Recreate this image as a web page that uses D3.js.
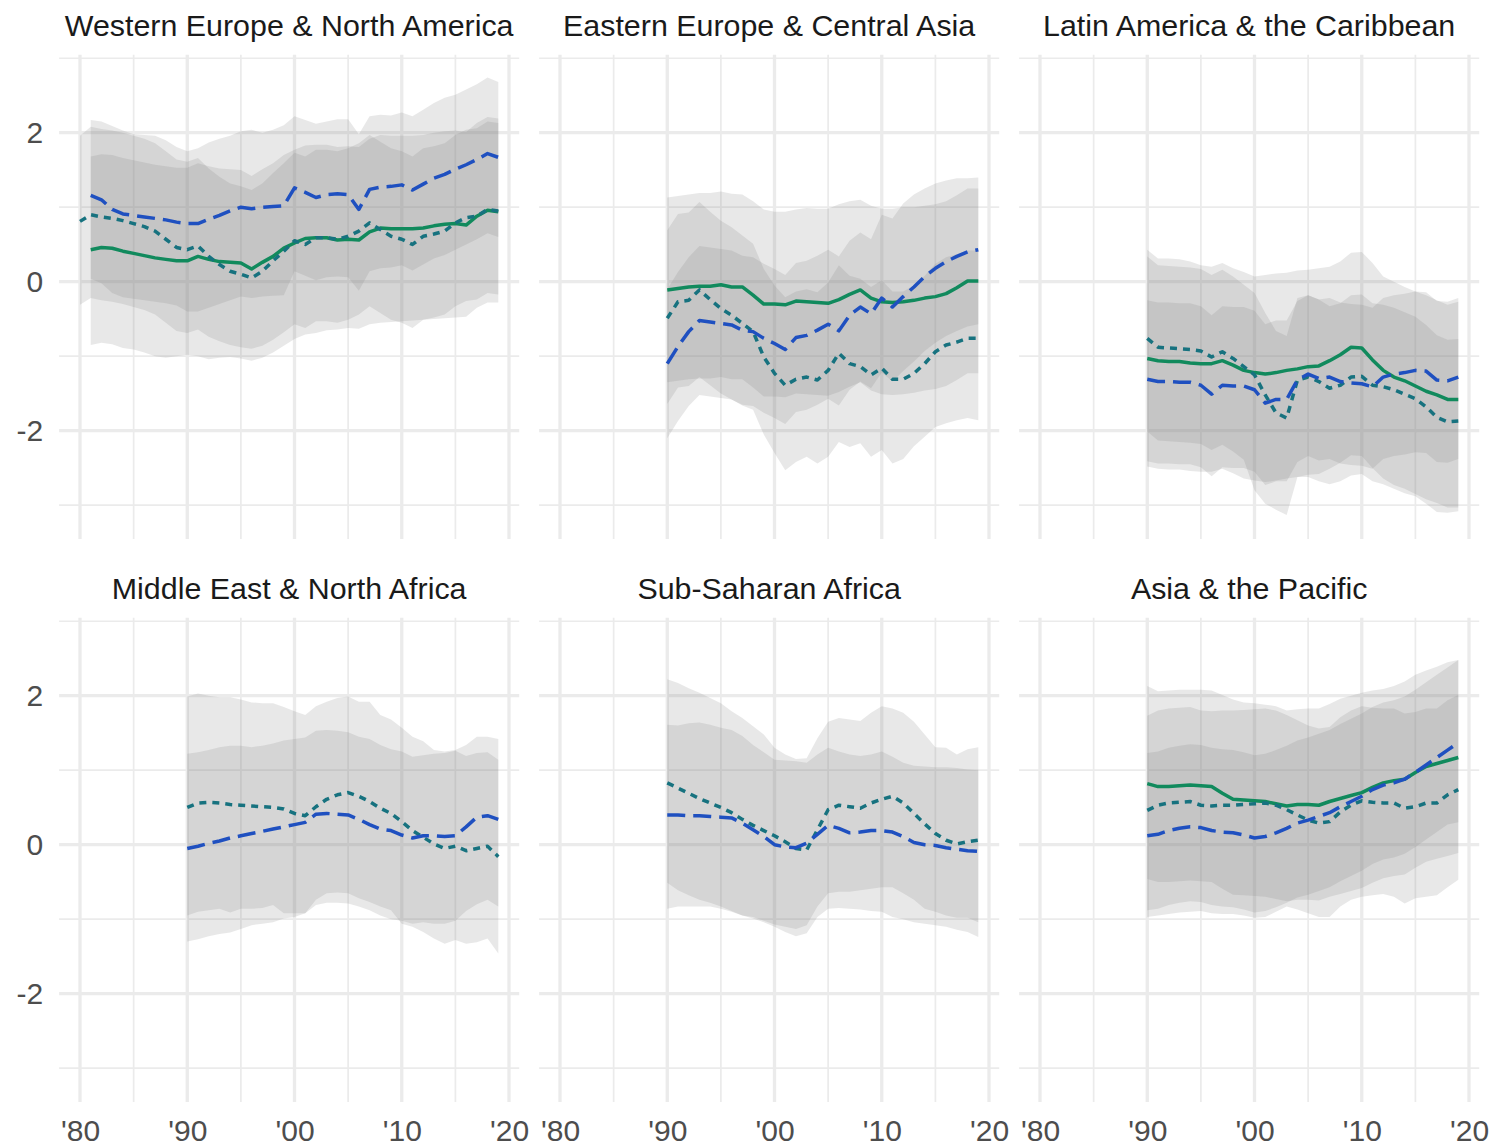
<!DOCTYPE html>
<html><head><meta charset="utf-8">
<script src="https://cdn.jsdelivr.net/npm/d3@7"></script>
<style>body{margin:0;background:#fff;} svg{display:block;font-family:"Liberation Sans",Arial,Helvetica,sans-serif;}</style>
</head><body>
<svg id="chart" width="1493" height="1148"></svg>
<script>
// ---------------- DATA ----------------
const regions = ["Western Europe & North America","Eastern Europe & Central Asia","Latin America & the Caribbean",
                 "Middle East & North Africa","Sub-Saharan Africa","Asia & the Pacific"];
const xTickValues = [1980,1990,2000,2010,2020];
const xTickLabels = ["'80","'90","'00","'10","'20"];
const yTickValues = [-2,0,2];
const yTickLabels = ["-2","0","2"];
const xMinorValues = [1985,1995,2005,2015];
const yMinorValues = [-3,-1,1,3];

// Western Europe & North America
const wenaTealStart = 1980;
const wenaTeal   = [0.81,0.90,0.87,0.85,0.82,0.78,0.74,0.68,0.57,0.46, 0.43,0.48,0.34,0.23,0.14,0.10,0.05,0.14,0.28,0.41, 0.55,0.50,0.59,0.59,0.57,0.61,0.68,0.79,0.70,0.61, 0.57,0.50,0.61,0.64,0.68,0.79,0.86,0.88,0.97,0.95];
const wenaTealHi = [1.96,2.08,2.05,2.03,2.00,1.96,1.92,1.86,1.75,1.64, 1.61,1.66,1.52,1.41,1.32,1.28,1.23,1.32,1.46,1.59, 1.73,1.68,1.77,1.77,1.75,1.79,1.86,1.97,1.88,1.79, 1.75,1.68,1.79,1.82,1.86,1.97,2.04,2.06,2.15,2.13];
const wenaTealLo = [-0.31,-0.22,-0.25,-0.27,-0.30,-0.34,-0.38,-0.44,-0.55,-0.66, -0.69,-0.64,-0.74,-0.80,-0.85,-0.88,-0.90,-0.86,-0.78,-0.68, -0.57,-0.62,-0.53,-0.53,-0.55,-0.51,-0.44,-0.33,-0.42,-0.51, -0.55,-0.62,-0.51,-0.48,-0.44,-0.33,-0.26,-0.24,-0.15,-0.17];
const wenaGreenStart = 1981;
const wenaGreen   = [0.43,0.46,0.45,0.41,0.38,0.35,0.32,0.30,0.28, 0.28,0.34,0.30,0.27,0.26,0.25,0.17,0.26,0.34,0.45, 0.52,0.58,0.59,0.59,0.56,0.57,0.56,0.67,0.72,0.71, 0.71,0.71,0.72,0.75,0.77,0.78,0.76,0.88,0.96,0.94];
const wenaGreenHi = [1.68,1.71,1.70,1.66,1.63,1.60,1.57,1.55,1.53, 1.53,1.59,1.55,1.52,1.51,1.50,1.42,1.51,1.59,1.70, 1.77,1.83,1.84,1.84,1.81,1.82,1.81,1.92,1.97,1.96, 1.96,1.96,1.97,2.00,2.02,2.03,2.01,2.13,2.21,2.19];
const wenaGreenLo = [-0.85,-0.82,-0.84,-0.89,-0.91,-0.95,-1.00,-1.02,-1.00, -0.98,-1.00,-1.04,-1.02,-1.01,-1.03,-1.06,-1.02,-0.95,-0.86, -0.77,-0.71,-0.69,-0.65,-0.64,-0.62,-0.63,-0.57,-0.55,-0.54, -0.53,-0.52,-0.51,-0.50,-0.49,-0.48,-0.47,-0.35,-0.28,-0.28];
const wenaBlueStart = 1981;
const wenaBlue   = [1.16,1.10,0.97,0.91,0.89,0.87,0.85,0.83,0.80, 0.78,0.78,0.84,0.89,0.95,1.00,0.98,1.00,1.01,1.02, 1.26,1.20,1.13,1.17,1.18,1.17,0.97,1.24,1.27,1.28, 1.30,1.23,1.31,1.39,1.44,1.51,1.57,1.64,1.72,1.67];
const wenaBlueHi = [2.17,2.15,2.09,2.03,1.98,1.97,1.96,1.90,1.81, 1.75,1.79,1.87,1.92,1.96,2.02,2.04,2.00,2.04,2.10, 2.22,2.17,2.12,2.15,2.18,2.18,1.98,2.22,2.24,2.23, 2.27,2.22,2.31,2.40,2.47,2.51,2.58,2.65,2.74,2.68];
const wenaBlueLo = [0.04,-0.02,-0.15,-0.21,-0.23,-0.25,-0.27,-0.29,-0.32, -0.40,-0.40,-0.35,-0.30,-0.25,-0.20,-0.22,-0.20,-0.19,-0.18, 0.14,0.08,0.02,0.06,0.07,0.06,-0.12,0.14,0.18,0.19, 0.22,0.15,0.23,0.31,0.36,0.43,0.50,0.57,0.65,0.60];

// Eastern Europe & Central Asia (from 1990)
const eecaGreen   = [-0.11,-0.09,-0.07,-0.06,-0.06,-0.04,-0.07,-0.07,-0.18,-0.30, -0.30,-0.31,-0.26,-0.27,-0.28,-0.29,-0.24,-0.17,-0.11,-0.22, -0.27,-0.28,-0.27,-0.25,-0.22,-0.20,-0.16,-0.08,0.01,0.01];
const eecaGreenHi = [1.13,1.15,1.17,1.19,1.19,1.21,1.18,1.17,1.08,0.97, 0.94,0.94,0.97,0.99,0.98,0.98,1.04,1.08,1.10,1.02, 0.98,0.98,1.00,1.00,1.02,1.04,1.08,1.16,1.25,1.25];
const eecaGreenLo = [-1.35,-1.33,-1.31,-1.30,-1.30,-1.28,-1.31,-1.31,-1.42,-1.54, -1.54,-1.55,-1.50,-1.51,-1.52,-1.53,-1.48,-1.41,-1.35,-1.46, -1.51,-1.52,-1.51,-1.49,-1.46,-1.44,-1.40,-1.32,-1.23,-1.23];
const eecaBlue   = [-1.10,-0.87,-0.67,-0.52,-0.54,-0.56,-0.58,-0.65,-0.67,-0.76, -0.83,-0.91,-0.75,-0.72,-0.65,-0.57,-0.66,-0.45,-0.34,-0.43, -0.22,-0.34,-0.20,-0.07,0.07,0.18,0.27,0.34,0.40,0.43];
const eecaBlueHi = [-0.10,0.13,0.33,0.48,0.46,0.44,0.42,0.35,0.33,0.24, 0.17,0.09,0.25,0.28,0.35,0.43,0.34,0.55,0.66,0.57, 0.90,0.85,1.05,1.17,1.25,1.32,1.36,1.39,1.39,1.40];
const eecaBlueLo = [-2.10,-1.87,-1.67,-1.52,-1.54,-1.56,-1.58,-1.65,-1.67,-1.76, -1.83,-1.91,-1.75,-1.72,-1.65,-1.57,-1.66,-1.45,-1.34,-1.43, -1.22,-1.34,-1.20,-1.07,-0.93,-0.82,-0.73,-0.66,-0.60,-0.57];
const eecaTeal   = [-0.49,-0.27,-0.25,-0.11,-0.24,-0.36,-0.45,-0.56,-0.67,-1.01, -1.23,-1.39,-1.31,-1.28,-1.32,-1.19,-0.96,-1.10,-1.14,-1.25, -1.16,-1.31,-1.31,-1.23,-1.10,-0.94,-0.85,-0.81,-0.76,-0.76];
const eecaTealHi = [0.69,0.91,0.93,1.07,0.94,0.82,0.73,0.62,0.51,0.17, -0.05,-0.21,-0.13,-0.10,-0.14,-0.01,0.22,0.08,0.04,-0.07, 0.02,-0.13,-0.13,-0.05,0.08,0.24,0.33,0.37,0.42,0.42];
const eecaTealLo = [-1.64,-1.42,-1.40,-1.28,-1.39,-1.50,-1.58,-1.66,-1.72,-2.05, -2.30,-2.53,-2.42,-2.35,-2.44,-2.35,-2.15,-2.22,-2.17,-2.35, -2.26,-2.44,-2.38,-2.21,-2.08,-1.95,-1.90,-1.86,-1.83,-1.86];

// Latin America & the Caribbean (from 1990)
const lacGreen   = [-1.03,-1.06,-1.07,-1.07,-1.09,-1.10,-1.10,-1.06,-1.12,-1.19, -1.22,-1.24,-1.22,-1.19,-1.17,-1.14,-1.13,-1.06,-0.98,-0.88, -0.89,-1.05,-1.19,-1.28,-1.33,-1.40,-1.47,-1.52,-1.58,-1.58];
const lacGreenHi = [0.43,0.31,0.31,0.30,0.27,0.22,0.20,0.25,0.18,0.13, 0.07,0.09,0.11,0.12,0.15,0.16,0.18,0.20,0.27,0.39, 0.40,0.25,0.07,0.00,-0.07,-0.13,-0.18,-0.25,-0.31,-0.27];
const lacGreenLo = [-2.48,-2.51,-2.52,-2.52,-2.54,-2.55,-2.55,-2.51,-2.57,-2.64, -2.67,-2.69,-2.67,-2.64,-2.62,-2.59,-2.58,-2.51,-2.43,-2.33, -2.34,-2.50,-2.64,-2.73,-2.78,-2.85,-2.92,-2.97,-3.03,-3.03];
const lacBlue   = [-1.31,-1.34,-1.34,-1.35,-1.35,-1.39,-1.51,-1.39,-1.40,-1.40, -1.45,-1.63,-1.58,-1.58,-1.32,-1.24,-1.30,-1.28,-1.34,-1.36, -1.37,-1.41,-1.28,-1.24,-1.22,-1.19,-1.20,-1.32,-1.33,-1.28];
const lacBlueHi = [-0.25,-0.28,-0.28,-0.29,-0.29,-0.33,-0.45,-0.33,-0.34,-0.34, -0.39,-0.57,-0.52,-0.52,-0.26,-0.18,-0.24,-0.22,-0.28,-0.30, -0.31,-0.35,-0.22,-0.18,-0.16,-0.13,-0.14,-0.26,-0.27,-0.22];
const lacBlueLo = [-2.41,-2.44,-2.44,-2.45,-2.45,-2.49,-2.61,-2.49,-2.50,-2.50, -2.55,-2.73,-2.68,-2.68,-2.42,-2.34,-2.40,-2.38,-2.44,-2.46, -2.47,-2.51,-2.38,-2.34,-2.32,-2.29,-2.30,-2.42,-2.43,-2.38];
const lacTeal   = [-0.76,-0.88,-0.89,-0.90,-0.91,-0.93,-1.01,-0.94,-1.03,-1.14, -1.25,-1.52,-1.76,-1.83,-1.32,-1.28,-1.34,-1.43,-1.39,-1.28, -1.27,-1.39,-1.41,-1.45,-1.51,-1.57,-1.68,-1.82,-1.88,-1.87];
const lacTealHi = [0.34,0.22,0.21,0.20,0.19,0.17,0.09,0.16,0.07,-0.04, -0.15,-0.42,-0.66,-0.73,-0.22,-0.18,-0.24,-0.33,-0.29,-0.18, -0.17,-0.29,-0.31,-0.35,-0.41,-0.47,-0.58,-0.72,-0.78,-0.77];
const lacTealLo = [-2.01,-2.13,-2.14,-2.15,-2.16,-2.18,-2.26,-2.19,-2.28,-2.39, -2.80,-2.98,-3.06,-3.13,-2.62,-2.62,-2.68,-2.72,-2.68,-2.60, -2.58,-2.68,-2.72,-2.78,-2.84,-2.88,-2.98,-3.09,-3.10,-3.08];

// Middle East & North Africa (from 1990)
const menaBlue   = [-0.05,-0.02,0.02,0.05,0.09,0.12,0.15,0.18,0.21,0.24, 0.27,0.30,0.41,0.42,0.41,0.40,0.34,0.27,0.21,0.19, 0.13,0.09,0.12,0.12,0.11,0.12,0.24,0.37,0.39,0.34];
const menaBlueHi = [1.22,1.24,1.27,1.31,1.33,1.33,1.31,1.33,1.36,1.40, 1.42,1.44,1.53,1.54,1.53,1.51,1.45,1.42,1.34,1.28, 1.25,1.18,1.20,1.22,1.23,1.26,1.19,1.23,1.24,1.14];
const menaBlueLo = [-1.30,-1.27,-1.23,-1.20,-1.18,-1.13,-1.08,-1.06,-1.04,-0.99, -0.97,-0.92,-0.81,-0.78,-0.78,-0.79,-0.83,-0.88,-0.95,-1.00, -1.02,-1.06,-1.04,-1.06,-1.06,-1.02,-0.89,-0.80,-0.74,-0.83];
const menaTeal   = [0.50,0.56,0.57,0.56,0.54,0.53,0.52,0.51,0.50,0.48, 0.42,0.39,0.51,0.61,0.67,0.70,0.65,0.58,0.49,0.42, 0.31,0.19,0.10,0.01,-0.05,-0.02,-0.08,-0.05,-0.02,-0.16];
const menaTealHi = [1.99,2.03,2.00,1.98,1.98,1.95,1.91,1.90,1.90,1.85, 1.79,1.74,1.86,1.92,1.97,1.99,1.92,1.92,1.74,1.68, 1.57,1.45,1.39,1.27,1.25,1.27,1.34,1.45,1.45,1.42];
const menaTealLo = [-0.95,-0.90,-0.88,-0.86,-0.91,-0.86,-0.86,-0.85,-0.81,-0.92, -0.92,-0.92,-0.74,-0.65,-0.64,-0.65,-0.72,-0.77,-0.83,-0.88, -1.06,-1.10,-1.17,-1.26,-1.33,-1.28,-1.33,-1.31,-1.26,-1.46];

// Sub-Saharan Africa (from 1990)
const ssaBlue   = [0.40,0.40,0.39,0.39,0.38,0.37,0.36,0.29,0.20,0.11, 0.00,-0.03,-0.04,0.02,0.14,0.26,0.22,0.16,0.17,0.19, 0.19,0.17,0.11,0.03,0.00,-0.01,-0.04,-0.06,-0.08,-0.09];
const ssaBlueHi = [1.61,1.60,1.63,1.64,1.61,1.57,1.54,1.46,1.34,1.24, 1.14,1.13,1.12,1.10,1.21,1.30,1.25,1.21,1.19,1.21, 1.25,1.18,1.10,1.06,1.05,1.04,1.04,1.03,1.01,1.00];
const ssaBlueLo = [-0.86,-0.83,-0.83,-0.83,-0.83,-0.86,-0.90,-0.95,-0.99,-1.04, -1.10,-1.17,-1.23,-1.19,-0.97,-0.86,-0.85,-0.86,-0.87,-0.89, -0.90,-0.97,-1.00,-1.04,-1.06,-1.08,-1.10,-1.14,-1.17,-1.24];
const ssaTeal   = [0.83,0.76,0.69,0.62,0.56,0.50,0.43,0.34,0.26,0.19, 0.12,0.04,-0.05,-0.07,0.20,0.47,0.53,0.51,0.49,0.56, 0.61,0.65,0.56,0.42,0.28,0.15,0.06,0.01,0.04,0.06];
const ssaTealHi = [2.22,2.17,2.10,2.04,1.97,1.90,1.79,1.70,1.59,1.48, 1.30,1.21,1.15,1.16,1.43,1.65,1.70,1.68,1.66,1.77, 1.86,1.83,1.77,1.65,1.48,1.31,1.30,1.21,1.28,1.31];
const ssaTealLo = [-0.51,-0.61,-0.68,-0.74,-0.78,-0.83,-0.89,-0.95,-0.97,-1.02, -1.07,-1.10,-1.13,-1.08,-0.83,-0.65,-0.63,-0.63,-0.61,-0.59, -0.57,-0.57,-0.65,-0.74,-0.86,-0.90,-0.95,-0.98,-0.98,-1.04];

// Asia & the Pacific (from 1990)
const apGreen   = [0.82,0.78,0.78,0.79,0.80,0.79,0.78,0.69,0.61,0.60, 0.59,0.58,0.55,0.52,0.54,0.54,0.53,0.58,0.62,0.66, 0.70,0.77,0.83,0.86,0.88,0.97,1.05,1.09,1.13,1.17];
const apGreenHi = [2.13,2.06,2.07,2.08,2.08,2.08,2.07,2.01,1.95,1.91, 1.90,1.88,1.86,1.80,1.82,1.83,1.83,1.89,1.96,2.00, 2.04,2.07,2.09,2.13,2.19,2.28,2.34,2.39,2.45,2.48];
const apGreenLo = [-0.46,-0.50,-0.50,-0.49,-0.48,-0.49,-0.50,-0.59,-0.67,-0.68, -0.69,-0.70,-0.73,-0.76,-0.74,-0.74,-0.75,-0.70,-0.66,-0.62, -0.58,-0.51,-0.45,-0.42,-0.40,-0.31,-0.23,-0.19,-0.15,-0.11];
const apBlue   = [0.12,0.14,0.19,0.22,0.24,0.23,0.19,0.17,0.16,0.13, 0.09,0.11,0.16,0.22,0.29,0.33,0.38,0.43,0.51,0.58, 0.65,0.74,0.80,0.83,0.88,0.97,1.07,1.17,1.27,1.37];
const apBlueHi = [1.23,1.25,1.30,1.33,1.35,1.34,1.30,1.28,1.27,1.24, 1.20,1.22,1.27,1.33,1.40,1.44,1.49,1.54,1.62,1.69, 1.76,1.85,1.91,1.94,1.99,2.08,2.18,2.28,2.38,2.48];
const apBlueLo = [-0.88,-0.86,-0.81,-0.78,-0.76,-0.77,-0.81,-0.83,-0.84,-0.87, -0.91,-0.89,-0.84,-0.78,-0.71,-0.67,-0.62,-0.57,-0.49,-0.42, -0.35,-0.26,-0.20,-0.17,-0.12,-0.03,0.07,0.17,0.27,0.30];
const apTeal   = [0.46,0.53,0.56,0.57,0.58,0.53,0.52,0.53,0.53,0.54, 0.55,0.56,0.53,0.47,0.40,0.33,0.29,0.31,0.44,0.53, 0.59,0.57,0.56,0.56,0.49,0.51,0.56,0.56,0.67,0.74];
const apTealHi = [1.73,1.80,1.83,1.84,1.85,1.80,1.79,1.80,1.80,1.81, 1.82,1.83,1.80,1.74,1.67,1.60,1.56,1.58,1.71,1.80, 1.86,1.84,1.83,1.83,1.76,1.78,1.83,1.83,1.94,2.01];
const apTealLo = [-0.97,-0.95,-0.93,-0.91,-0.90,-0.89,-0.92,-0.93,-0.93,-0.95, -0.98,-0.97,-0.90,-0.83,-0.87,-0.92,-0.97,-0.97,-0.83,-0.74, -0.70,-0.68,-0.66,-0.70,-0.79,-0.72,-0.70,-0.68,-0.57,-0.47];

// ---------------- STRUCTURE ----------------
const S = (kind, start, mid, lo, hi) => ({kind, start, mid, lo, hi});
const panels = [
  {title: regions[0], series: [S("green",wenaGreenStart,wenaGreen,wenaGreenLo,wenaGreenHi), S("teal",wenaTealStart,wenaTeal,wenaTealLo,wenaTealHi), S("blue",wenaBlueStart,wenaBlue,wenaBlueLo,wenaBlueHi)]},
  {title: regions[1], series: [S("green",1990,eecaGreen,eecaGreenLo,eecaGreenHi), S("teal",1990,eecaTeal,eecaTealLo,eecaTealHi), S("blue",1990,eecaBlue,eecaBlueLo,eecaBlueHi)]},
  {title: regions[2], series: [S("green",1990,lacGreen,lacGreenLo,lacGreenHi), S("teal",1990,lacTeal,lacTealLo,lacTealHi), S("blue",1990,lacBlue,lacBlueLo,lacBlueHi)]},
  {title: regions[3], series: [S("teal",1990,menaTeal,menaTealLo,menaTealHi), S("blue",1990,menaBlue,menaBlueLo,menaBlueHi)]},
  {title: regions[4], series: [S("teal",1990,ssaTeal,ssaTealLo,ssaTealHi), S("blue",1990,ssaBlue,ssaBlueLo,ssaBlueHi)]},
  {title: regions[5], series: [S("green",1990,apGreen,apGreenLo,apGreenHi), S("teal",1990,apTeal,apTealLo,apTealHi), S("blue",1990,apBlue,apBlueLo,apBlueHi)]}
];

const styles = {
  green: {stroke:"#118a5d", dash:null},
  blue:  {stroke:"#1f50c0", dash:"18,8"},
  teal:  {stroke:"#17727f", dash:"7,6"}
};

// ---------------- LAYOUT ----------------
const svg = d3.select("#chart");
const colX = [59.1, 539.1, 1019.1];
const panelW = 460.1;
const rowY = [54.8, 617.8];
const panelH = 484.3;
const xDomain = [1978.05, 2020.95];
const yDomain = [-3.455, 3.046];
const gridColor = "#ebebeb";

panels.forEach((p, i) => {
  const c = i % 3, r = Math.floor(i / 3);
  const x = d3.scaleLinear().domain(xDomain).range([colX[c], colX[c] + panelW]);
  const y = d3.scaleLinear().domain(yDomain).range([rowY[r] + panelH, rowY[r]]);
  const g = svg.append("g");
  const [xl, xr] = x.range();
  const [yb, yt] = y.range();

  // grid
  g.selectAll(".ymin").data(yMinorValues).join("line")
    .attr("x1", xl).attr("x2", xr).attr("y1", d => y(d)).attr("y2", d => y(d))
    .attr("stroke", gridColor).attr("stroke-width", 1.7);
  g.selectAll(".xmin").data(xMinorValues).join("line")
    .attr("y1", yt).attr("y2", yb).attr("x1", d => x(d)).attr("x2", d => x(d))
    .attr("stroke", gridColor).attr("stroke-width", 1.7);
  g.selectAll(".ymaj").data(yTickValues).join("line")
    .attr("x1", xl).attr("x2", xr).attr("y1", d => y(d)).attr("y2", d => y(d))
    .attr("stroke", gridColor).attr("stroke-width", 3.3);
  g.selectAll(".xmaj").data(xTickValues).join("line")
    .attr("y1", yt).attr("y2", yb).attr("x1", d => x(d)).attr("x2", d => x(d))
    .attr("stroke", gridColor).attr("stroke-width", 3.3);

  // ribbons
  p.series.forEach(s => {
    const area = d3.area()
      .x((d, k) => x(s.start + k))
      .y0((d, k) => y(s.lo[k]))
      .y1((d, k) => y(s.hi[k]));
    g.append("path").attr("d", area(s.mid))
      .attr("fill", "#7f7f7f").attr("fill-opacity", 0.18).attr("stroke", "none");
  });
  // lines
  p.series.forEach(s => {
    const line = d3.line().x((d, k) => x(s.start + k)).y(d => y(d));
    const st = styles[s.kind];
    g.append("path").attr("d", line(s.mid))
      .attr("fill", "none").attr("stroke", st.stroke).attr("stroke-width", 3.5)
      .attr("stroke-dasharray", st.dash).attr("stroke-linejoin", "round");
  });

  // title
  g.append("text").attr("x", (xl + xr) / 2).attr("y", rowY[r] - 18.6)
    .attr("text-anchor", "middle").attr("font-size", 30.4).attr("fill", "#1a1a1a")
    .text(p.title);

  // axes
  if (r === 1) {
    const ax = g.append("g").attr("transform", `translate(0,${yb})`)
      .call(d3.axisBottom(x).tickValues(xTickValues)
        .tickFormat((d, k) => xTickLabels[k]).tickSize(0).tickPadding(18));
    ax.select(".domain").remove();
    ax.selectAll("text").attr("font-size", 30).attr("fill", "#4d4d4d")
      .attr("font-family", '"Liberation Sans",Arial,sans-serif');
  }
  if (c === 0) {
    const ay = g.append("g").attr("transform", `translate(${xl},0)`)
      .call(d3.axisLeft(y).tickValues(yTickValues)
        .tickFormat((d, k) => yTickLabels[k]).tickSize(0).tickPadding(16));
    ay.select(".domain").remove();
    ay.selectAll("text").attr("font-size", 30).attr("fill", "#4d4d4d")
      .attr("font-family", '"Liberation Sans",Arial,sans-serif');
  }
});
</script>
</body></html>
